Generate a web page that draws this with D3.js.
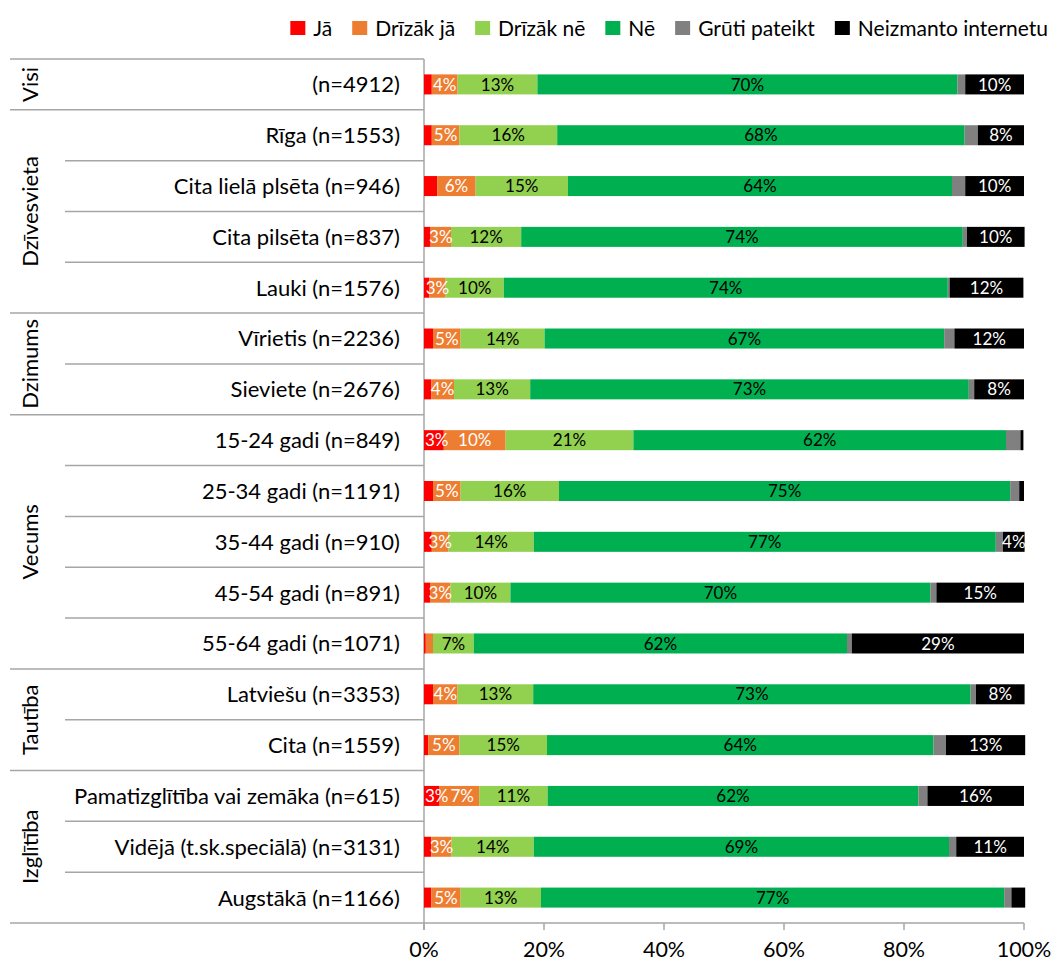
<!DOCTYPE html>
<html><head><meta charset="utf-8">
<script src="https://cdn.jsdelivr.net/npm/d3@7"></script>
<style>body{margin:0;background:#fff;} svg{display:block;} text{font-family:Lato,"Open Sans",sans-serif;}</style>
</head><body>
<svg id="c" width="1055" height="964"></svg>
<script>
const categories = ["(n=4912)","Rīga (n=1553)","Cita lielā plsēta (n=946)","Cita pilsēta (n=837)","Lauki (n=1576)","Vīrietis (n=2236)","Sieviete (n=2676)","15-24 gadi (n=849)","25-34 gadi (n=1191)","35-44 gadi (n=910)","45-54 gadi (n=891)","55-64 gadi (n=1071)","Latviešu (n=3353)","Cita (n=1559)","Pamatizglītība vai zemāka (n=615)","Vidējā (t.sk.speciālā) (n=3131)","Augstākā (n=1166)"];
const groups = ["Visi","Dzīvesvieta","Dzimums","Vecums","Tautība","Izglītība"];
const groupSizes = [1,4,2,5,2,3];
const seriesNames = ["Jā","Drīzāk jā","Drīzāk nē","Nē","Grūti pateikt","Neizmanto internetu"];
const ja        = [1.3,1.3,2.2,1.1,0.9,1.5,1.2,3.3,1.5,1.3,1.0,0.3,1.5,0.7,2.6,1.2,1.2];
const drizakJa  = [4.3,4.6,6.4,3.4,2.7,4.6,3.8,10.3,4.6,2.8,3.4,1.2,4.1,5.2,6.6,3.4,4.9];
const drizakNe  = [13.3,16.3,15.4,11.7,9.7,14.0,12.7,21.3,16.4,14.2,10.0,6.8,12.6,14.6,11.4,13.7,13.4];
const ne        = [70.0,67.9,64.0,73.6,74.0,66.6,73.1,62.1,75.2,77.0,70.0,62.2,72.9,64.4,61.8,69.2,77.2];
const gruti     = [1.3,2.2,2.2,0.7,0.3,1.7,0.9,2.4,1.5,1.2,1.0,0.8,0.9,2.1,1.5,1.2,1.2];
const neizmanto = [9.8,7.7,9.8,9.6,12.3,11.6,8.3,0.5,0.8,3.6,14.6,28.7,8.1,13.2,16.1,11.3,2.3];
const xTicks = [0,20,40,60,80,100];

const seriesValues = [ja,drizakJa,drizakNe,ne,gruti,neizmanto];
const colors = ["#FF0000","#ED7D31","#92D050","#00B050","#808080","#000000"];
const labelColors = ["#fff","#fff","#000","#000",null,"#fff"];
const keys = seriesNames;

const rows = categories.map((c,i)=>{const o={cat:c}; keys.forEach((k,j)=>o[k]=seriesValues[j][i]); return o;});
const stack = d3.stack().keys(keys)(rows);

const svg = d3.select("#c");
const L = 424, R = 1024, T = 59, B = 923;
const x = d3.scaleLinear().domain([0,100]).range([L,R]);
const y = d3.scaleBand().domain(categories).range([T,B]).paddingInner(0.606).paddingOuter(0.303);
const step = y.step();
const gridC = "#A6A6A6";

// category separators and axis lines (behind bars)
const bounds = [0]; groupSizes.reduce((a,b)=>{bounds.push(a+b); return a+b;},0);
for(let i=0;i<=categories.length;i++){
  const yy = T + i*step;
  const isGroup = bounds.includes(i);
  svg.append("line").attr("x1",isGroup?10:65).attr("x2",i===categories.length?R:L)
    .attr("y1",yy).attr("y2",yy).attr("stroke",gridC).attr("stroke-width",1.5);
}
svg.append("line").attr("x1",L).attr("x2",L).attr("y1",T).attr("y2",B+7).attr("stroke",gridC).attr("stroke-width",1.5);
svg.append("g").selectAll("line").data(xTicks).join("line")
  .attr("x1",d=>x(d)).attr("x2",d=>x(d)).attr("y1",B).attr("y2",B+7).attr("stroke",gridC).attr("stroke-width",1.5);

// bars
const layers = svg.append("g").selectAll("g").data(stack).join("g").attr("fill",(d,i)=>colors[i]);
layers.selectAll("rect").data(d=>d).join("rect")
  .attr("x",d=>x(d[0])).attr("width",d=>Math.max(0,x(d[1])-x(d[0])))
  .attr("y",d=>y(d.data.cat)).attr("height",y.bandwidth());

// labels (left to right per row, nudged to avoid overlapping the axis or each other)
const lastRight = {};
stack.forEach((s,i)=>{
  if(!labelColors[i]) return;
  svg.append("g").selectAll("text").data(s.filter(d=>d[1]-d[0]>=2.5)).join("text")
    .attr("x",d=>x((d[0]+d[1])/2)).attr("y",d=>y(d.data.cat)+y.bandwidth()/2)
    .attr("dy","0.36em").attr("text-anchor","middle").attr("font-size",17)
    .attr("fill",labelColors[i]).text(d=>Math.round(d[1]-d[0])+"%")
    .each(function(d){
      const w = this.getComputedTextLength();
      let cx = +this.getAttribute("x");
      const minLeft = Math.max(L + 1, (lastRight[d.data.cat] ?? -1e9) + 2);
      if(cx - w/2 < minLeft) cx = minLeft + w/2;
      this.setAttribute("x", cx);
      lastRight[d.data.cat] = cx + w/2;
    });
});

// x tick labels
svg.append("g").selectAll("text").data(xTicks).join("text")
  .attr("x",d=>x(d)).attr("y",957).attr("text-anchor","middle").attr("font-size",21.5).attr("fill","#000")
  .text(d=>d+"%");

// category labels
svg.append("g").selectAll("text").data(categories).join("text")
  .attr("x",400).attr("y",d=>y(d)+y.bandwidth()/2).attr("dy","0.36em")
  .attr("text-anchor","end").attr("font-size",22).attr("fill","#000").text(d=>d);

// group labels
groups.forEach((g,i)=>{
  const cy = T + (bounds[i]+bounds[i+1])/2*step;
  svg.append("text").attr("transform",`translate(30,${cy}) rotate(-90)`)
    .attr("dy","0.36em").attr("text-anchor","middle").attr("font-size",22).attr("fill","#000").text(g);
});

// legend
const leg = svg.append("g");
let lx = 0; const items=[];
seriesNames.forEach((n,i)=>{
  const gI = leg.append("g");
  gI.append("rect").attr("x",0).attr("y",21).attr("width",15).attr("height",14).attr("fill",colors[i]);
  const t = gI.append("text").attr("x",23).attr("y",35.5).attr("font-size",21).attr("fill","#000").text(n);
  items.push({g:gI,w:23+t.node().getComputedTextLength()});
});
items.forEach((it,i)=>{ it.g.attr("transform",`translate(${lx},0)`); lx += it.w + (i<items.length-1?20:0); });
leg.attr("transform",`translate(${1048-lx},0)`);
</script>
</body></html>
